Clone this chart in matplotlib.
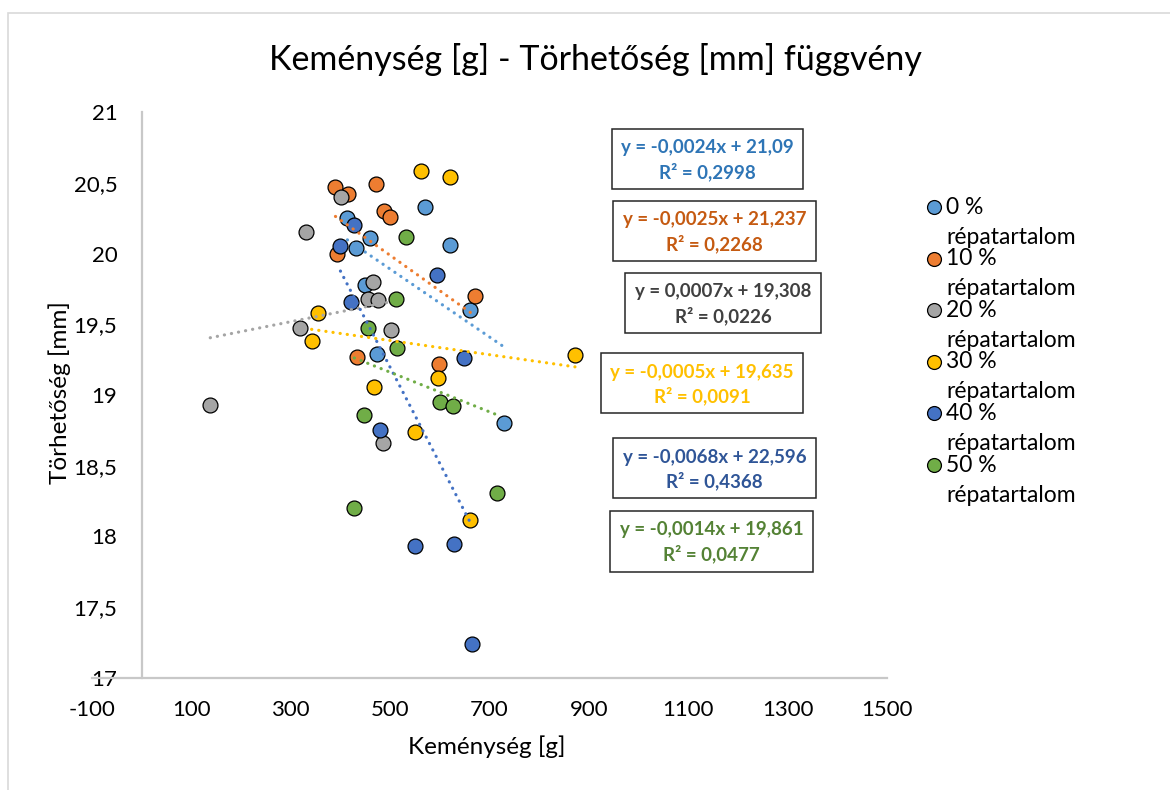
import numpy as np
import matplotlib
matplotlib.use("Agg")
from matplotlib import pyplot as plt
from matplotlib.patches import Rectangle
from matplotlib.lines import Line2D

plt.rcParams['font.family'] = ['Lato', 'DejaVu Sans']
plt.rcParams['axes.unicode_minus'] = False

# --- data ---
series_names = ["0 %", "10 %", "20 %", "30 %", "40 %", "50 %"]

x_0 = [414, 570, 460, 432, 620, 450, 660, 474, 730]
y_0 = [20.25, 20.33, 20.11, 20.04, 20.06, 19.78, 19.60, 19.29, 18.80]

x_10 = [390, 416, 472, 488, 500, 394, 670, 434, 598]
y_10 = [20.47, 20.42, 20.49, 20.30, 20.26, 20.00, 19.70, 19.27, 19.22]

x_20 = [402, 330, 466, 456, 476, 502, 318, 486, 138]
y_20 = [20.40, 20.15, 19.80, 19.68, 19.67, 19.46, 19.47, 18.66, 18.93]

x_30 = [562, 620, 354, 342, 596, 468, 550, 660, 872]
y_30 = [20.58, 20.54, 19.58, 19.38, 19.12, 19.06, 18.74, 18.12, 19.28]

x_40 = [428, 400, 594, 422, 648, 480, 550, 628, 664]
y_40 = [20.20, 20.05, 19.85, 19.66, 19.26, 18.75, 17.93, 17.95, 17.24]

x_50 = [532, 512, 456, 514, 600, 626, 448, 716, 428]
y_50 = [20.12, 19.68, 19.47, 19.33, 18.95, 18.92, 18.86, 18.31, 18.20]

xs_all = [x_0, x_10, x_20, x_30, x_40, x_50]
ys_all = [y_0, y_10, y_20, y_30, y_40, y_50]

slopes = [-0.0024, -0.0025, 0.0007, -0.0005, -0.0068, -0.0014]
intercepts = [21.09, 21.237, 19.308, 19.635, 22.596, 19.861]
r_squared = [0.2998, 0.2268, 0.0226, 0.0091, 0.4368, 0.0477]

marker_colors = ["#5B9BD5", "#ED7D31", "#A5A5A5", "#FFC000", "#4472C4", "#70AD47"]
eq_colors = ["#2E75B6", "#C55A11", "#404040", "#FFC000", "#2F5597", "#548235"]

W, H = 1170, 790


def fx(px):
    return px / W


def fy(py):
    return 1 - py / H


fig = plt.figure(figsize=(W / 100, H / 100), dpi=100)
ax = fig.add_axes([fx(92), fy(678), fx(887) - fx(92), fy(112) - fy(678)])

for i in range(6):
    ax.scatter(xs_all[i], ys_all[i], s=115, color=marker_colors[i],
               edgecolors="black", linewidths=0.9, zorder=3 + i * 0.1)

for i in range(6):
    xx = np.array([min(xs_all[i]), max(xs_all[i])])
    ax.plot(xx, slopes[i] * xx + intercepts[i], color=marker_colors[i],
            linewidth=2.3, linestyle=(0, (0.05, 2.2)), dash_capstyle="round", zorder=5)

ax.set_xlim(-100, 1500)
ax.set_ylim(17, 21)
ax.set_xticks(np.arange(-100, 1501, 200))
ax.set_yticks(np.arange(17, 21.01, 0.5))
ax.set_yticklabels([("%g" % v).replace(".", ",") for v in np.arange(17, 21.01, 0.5)])

for s in ["top", "right"]:
    ax.spines[s].set_visible(False)
ax.spines["left"].set_position(("data", 0))
ax.spines["left"].set_color("#C8C8C8")
ax.spines["left"].set_linewidth(1.6)
ax.spines["bottom"].set_color("#C8C8C8")
ax.spines["bottom"].set_linewidth(1.6)
ax.tick_params(axis="both", length=0, labelsize=16, colors="black")
ax.tick_params(axis="y", pad=17.5)
ax.tick_params(axis="x", pad=16)
ax.patch.set_alpha(0)

# titles and axis labels
fig.text(fx(595), fy(60), "Keménység [g] - Törhetőség [mm] függvény",
         ha="center", va="center", fontsize=24.5)
fig.text(fx(487), fy(747), "Keménység [g]", ha="center", va="center", fontsize=17.5)
fig.text(fx(60), fy(393), "Törhetőség [mm]", ha="center", va="center",
         rotation=90, fontsize=17.5)

# trendline equation boxes
boxes = [(612, 129, 803, 189), (613, 201, 816, 261), (625, 273, 821, 333),
         (601, 353, 803, 413), (613, 438, 816, 498), (610, 511, 813, 572)]
for i, (x0, y0, x1, y1) in enumerate(boxes):
    fig.add_artist(Rectangle((fx(x0), fy(y1)), fx(x1) - fx(x0), fy(y0) - fy(y1),
                             transform=fig.transFigure, facecolor="white",
                             edgecolor="#262626", linewidth=1.1, zorder=6))
    eq = ("y = %.4fx + %s" % (slopes[i], intercepts[i])).replace(".", ",")
    r2 = ("R² = %.4f" % r_squared[i]).replace(".", ",")
    cx = fx((x0 + x1) / 2)
    fig.text(cx, fy(y0 + 19), eq, ha="center", va="center", fontsize=13.5,
             fontweight="bold", color=eq_colors[i], zorder=7)
    fig.text(cx, fy(y0 + 43), r2, ha="center", va="center", fontsize=13.5,
             fontweight="bold", color=eq_colors[i], zorder=7)

# legend
for i, name in enumerate(series_names):
    ly = 207 + i * 51.6
    fig.add_artist(Line2D([fx(934)], [fy(ly)], transform=fig.transFigure,
                          marker="o", markersize=10, markerfacecolor=marker_colors[i],
                          markeredgecolor="black", markeredgewidth=0.9, linestyle="none"))
    fig.text(fx(946), fy(ly), name, ha="left", va="center", fontsize=16.5)
    fig.text(fx(946), fy(ly + 30), "répatartalom", ha="left", va="center", fontsize=16.5)

# chart area border
fig.add_artist(Rectangle((fx(8), fy(800)), fx(1180) - fx(8), fy(13) - fy(800),
                         transform=fig.transFigure, facecolor="none",
                         edgecolor="#D9D9D9", linewidth=1.2))

plt.savefig("out.png", dpi=100)
